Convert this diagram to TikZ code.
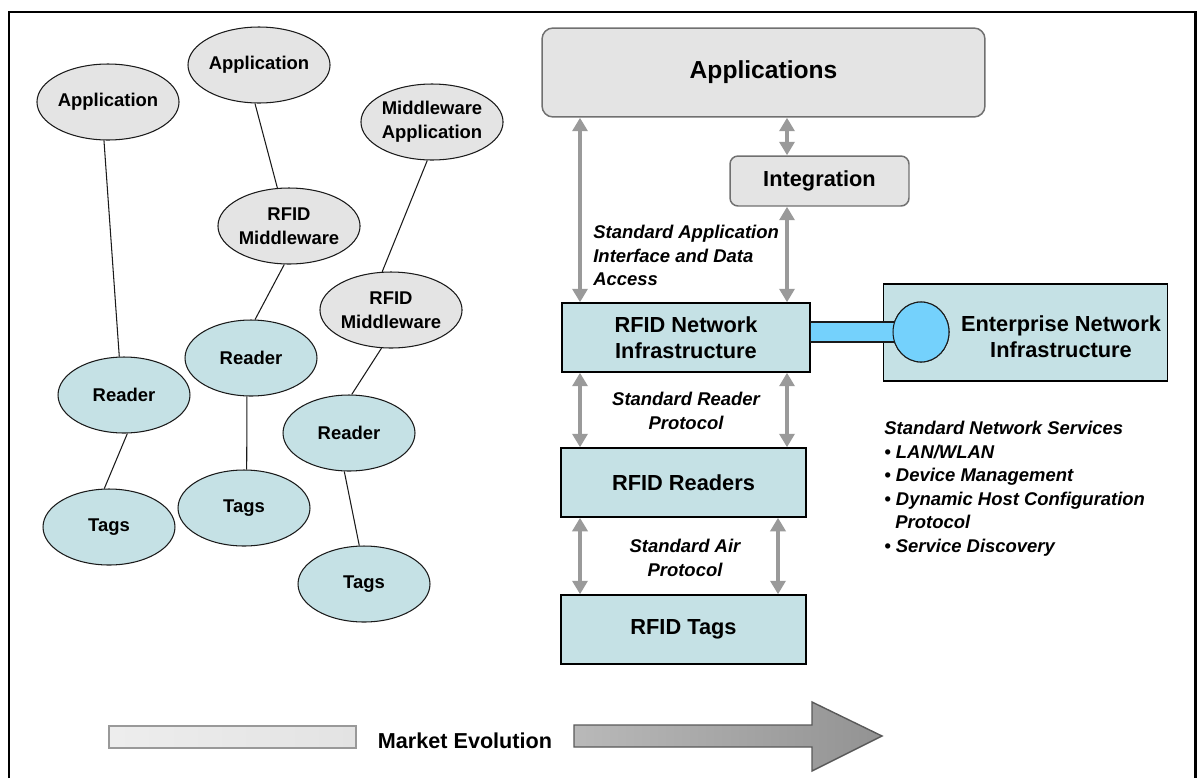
\documentclass[tikz,border=0pt]{standalone}
\usepackage{fontspec}
\setmainfont{Liberation Sans}
\usetikzlibrary{shapes.geometric,arrows.meta,calc}

\definecolor{ellgray}{HTML}{E4E4E4}
\definecolor{softteal}{HTML}{C5E1E5}
\definecolor{arrowgray}{HTML}{9A9A9A}
\definecolor{linkblue}{HTML}{74D1FC}
\definecolor{rimgray}{HTML}{707070}
\definecolor{inkdark}{HTML}{1A1A1A}

\tikzset{
  bubble/.style={ellipse, draw=inkdark, line width=0.6pt, inner sep=0pt,
    minimum width=2.64cm, minimum height=1.52cm, align=center,
    font=\bfseries\fontsize{10.5}{13.6}\selectfont},
  graybubble/.style={bubble, fill=ellgray},
  tealbubble/.style={bubble, fill=softteal},
  layerbox/.style={rectangle, draw=black, line width=0.85pt, fill=softteal,
    inner sep=0pt, align=center, font=\bfseries\fontsize{12.4}{15}\selectfont},
  roundbox/.style={rectangle, rounded corners=0.22cm, draw=rimgray,
    line width=0.85pt, fill=ellgray, inner sep=0pt, align=center},
  twoway/.style={draw=arrowgray, line width=2.8pt,
    {Triangle[width=0.3cm,length=0.27cm]}-{Triangle[width=0.3cm,length=0.27cm]},
    shorten <=0pt, shorten >=0pt},
  tie/.style={draw=inkdark, line width=0.6pt},
  italiclabel/.style={inner sep=0pt,
    font=\bfseries\itshape\fontsize{10.5}{13.4}\selectfont}
}

\begin{document}
\begin{tikzpicture}[x=0.02cm, y=-0.02cm]
\useasboundingbox (0,0) rectangle (1199,778);

% outer frame (open at the bottom)
\draw[line width=1.7pt] (9,778) -- (9,12) -- (1195,12) -- (1195,778);

% ---------- left: evolving stacks ----------
\node[graybubble] (app1)  at (108,102) {Application};
\node[graybubble] (app2)  at (259,65)  {Application};
\node[graybubble] (mwapp) at (432,122) {Middleware\\Application};
\node[graybubble] (mw1)   at (289,226) {RFID\\Middleware};
\node[graybubble] (mw2)   at (391,310) {RFID\\Middleware};
\node[tealbubble] (rdr2)  at (251,358) {Reader};
\node[tealbubble] (rdr1)  at (124,395) {Reader};
\node[tealbubble] (rdr3)  at (349,433) {Reader};
\node[tealbubble] (tag1)  at (109,527) {Tags};
\node[tealbubble] (tag2)  at (244,508) {Tags};
\node[tealbubble] (tag3)  at (364,584) {Tags};

\draw[tie] (app1.264)  -- (rdr1.97);
\draw[tie] (app2.264)  -- (mw1.107);
\draw[tie] (mwapp.263) -- (mw2.103);
\draw[tie] (mw1.263)   -- (rdr2.84);
\draw[tie] (mw2.256)   -- (rdr3.86);
\draw[tie] (rdr1.275)  -- (tag1.97);
\draw[tie] (rdr2.264)  -- (tag2.86);
\draw[tie] (rdr3.263)  -- (tag3.97);

% ---------- right: standards-based layers ----------
\node[roundbox, minimum width=8.86cm, minimum height=1.78cm,
      font=\bfseries\fontsize{14}{17}\selectfont] (apps) at (763.5,72.5) {Applications};
\node[roundbox, rounded corners=0.16cm, minimum width=3.58cm, minimum height=1.0cm,
      font=\bfseries\fontsize{12.4}{15}\selectfont] (integ) at (819.5,181) {Integration};

\node[layerbox, minimum width=4.96cm, minimum height=1.38cm] (net) at (686,337.5)
  {RFID Network\\Infrastructure};
\node[layerbox, minimum width=4.9cm, minimum height=1.38cm] (readers) at (683.5,482.5)
  {RFID Readers};
\node[layerbox, minimum width=4.9cm, minimum height=1.38cm] (rtags) at (683.5,629.5)
  {RFID Tags};

% enterprise network and its link to the RFID network
\node[layerbox, minimum width=5.68cm, minimum height=1.94cm] (ent) at (1025.5,332.5) {};
\node[ellipse, draw=inkdark, line width=0.6pt, fill=linkblue, inner sep=0pt,
      minimum width=1.12cm, minimum height=1.2cm] (hub) at (921,332) {};
\coordinate (linktop) at (0,322);
\coordinate (linkbot) at (0,342);
\draw[draw=inkdark, line width=0.7pt, fill=linkblue]
  (net.east |- linktop) rectangle (hub.center |- linkbot);
\node[ellipse, draw=inkdark, line width=0.6pt, fill=linkblue, inner sep=0pt,
      minimum width=1.12cm, minimum height=1.2cm] at (hub.center) {};
\node[inner sep=0pt, align=center, font=\bfseries\fontsize{12.4}{15}\selectfont]
  (enttext) at (1061,337) {Enterprise Network\\Infrastructure};

% two-way interfaces
\coordinate (colL) at (580,0);
\coordinate (colR) at (787,0);
\coordinate (colT) at (778,0);
\draw[twoway] (apps.south -| colL)    -- (net.north -| colL);
\draw[twoway] (apps.south -| colR)    -- (integ.north -| colR);
\draw[twoway] (integ.south -| colR)   -- (net.north -| colR);
\draw[twoway] (net.south -| colL)     -- (readers.north -| colL);
\draw[twoway] (net.south -| colR)     -- (readers.north -| colR);
\draw[twoway] (readers.south -| colL) -- (rtags.north -| colL);
\draw[twoway] (readers.south -| colT) -- (rtags.north -| colT);

% interface labels
\node[italiclabel, anchor=north west, align=left] (lblapp) at (593,225)
  {Standard Application\\Interface and Data\\Access};
\node[italiclabel, align=center] (lblrdr) at (686,411) {Standard Reader\\Protocol};
\node[italiclabel, align=center] (lblair) at (685,558) {Standard Air\\Protocol};

\node[italiclabel, anchor=north west, align=left] (services) at (884,421)
  {Standard Network Services\\
   \textbullet\ LAN/WLAN\\
   \textbullet\ Device Management\\
   \textbullet\ Dynamic Host Configuration\\
   \hspace*{0.6em}Protocol\\
   \textbullet\ Service Discovery};

% ---------- market evolution arrow ----------
\shade[left color=gray!14, right color=gray!22, draw=gray!80, line width=0.8pt]
  (109,726) rectangle (356,748);
\node[inner sep=0pt, font=\bfseries\fontsize{12.3}{15}\selectfont] (market) at (465,741)
  {Market Evolution};
\shade[left color=gray!55, right color=gray!85, draw=gray!70!black, line width=0.8pt]
  (574,725) -- (812,725) -- (812,702) -- (882,736) -- (812,771) -- (812,747) -- (574,747) -- cycle;
\end{tikzpicture}
\end{document}
